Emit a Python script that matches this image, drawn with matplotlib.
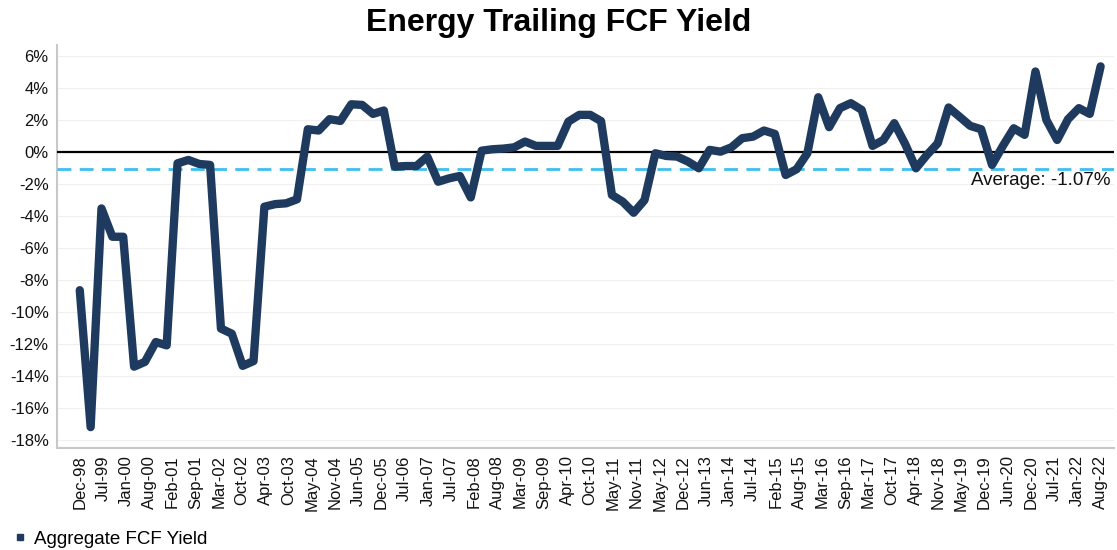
import numpy as np
import matplotlib
matplotlib.use("Agg")
import matplotlib.pyplot as plt
from matplotlib.lines import Line2D

plt.rcParams["font.family"] = ["Liberation Sans", "DejaVu Sans"]

# trailing FCF yield (%), one value per reporting period, Dec-98 .. Aug-22
fcf_yield = [
    -8.62, -17.18, -3.51, -5.28, -5.28, -13.40, -13.10, -11.86, -12.07, -0.69,
    -0.48, -0.73, -0.79, -11.02, -11.34, -13.35, -13.05, -3.40, -3.24, -3.19,
    -2.94, 1.44, 1.36, 2.07, 1.96, 3.00, 2.96, 2.40, 2.61, -0.90,
    -0.86, -0.86, -0.27, -1.84, -1.63, -1.48, -2.82, 0.10, 0.19, 0.23,
    0.31, 0.67, 0.40, 0.40, 0.40, 1.92, 2.34, 2.34, 1.95, -2.67,
    -3.09, -3.78, -2.99, -0.06, -0.23, -0.27, -0.58, -1.00, 0.15, 0.04,
    0.31, 0.88, 0.98, 1.36, 1.15, -1.42, -1.06, -0.06, 3.44, 1.57,
    2.76, 3.07, 2.65, 0.40, 0.77, 1.82, 0.52, -1.00, -0.17, 0.56,
    2.80, 2.23, 1.65, 1.44, -0.79, 0.40, 1.50, 1.09, 5.05, 2.03,
    0.77, 2.07, 2.76, 2.40, 5.37,
]
average_yield = -1.07

tick_labels = [
    "Dec-98", "Jul-99", "Jan-00", "Aug-00", "Feb-01", "Sep-01", "Mar-02",
    "Oct-02", "Apr-03", "Oct-03", "May-04", "Nov-04", "Jun-05", "Dec-05",
    "Jul-06", "Jan-07", "Jul-07", "Feb-08", "Aug-08", "Mar-09", "Sep-09",
    "Apr-10", "Oct-10", "May-11", "Nov-11", "May-12", "Dec-12", "Jun-13",
    "Jan-14", "Jul-14", "Feb-15", "Aug-15", "Mar-16", "Sep-16", "Mar-17",
    "Oct-17", "Apr-18", "Nov-18", "May-19", "Dec-19", "Jun-20", "Dec-20",
    "Jul-21", "Jan-22", "Aug-22",
]
y_ticks = list(range(-18, 7, 2))

NAVY = "#1f3a5f"
AVG_BLUE = "#3dbfef"

fig = plt.figure(figsize=(11.17, 5.5), dpi=100)
ax = fig.add_axes([0.051, 0.185, 0.946, 0.733])

x = np.arange(len(fcf_yield))
ax.plot(x, fcf_yield, color=NAVY, lw=6.0, solid_joinstyle="round",
        solid_capstyle="round", zorder=4)

ax.axhline(0, color="black", lw=1.6, zorder=3)
ax.axhline(average_yield, color=AVG_BLUE, lw=2.0, ls=(0, (5, 3)), zorder=3)
ax.annotate(f"Average: {average_yield:.2f}%",
            xy=(1, average_yield), xycoords=ax.get_yaxis_transform(),
            xytext=(-2, -2), textcoords="offset points",
            ha="right", va="top", fontsize=13.5, color="#111111")

ax.set_xlim(-2.1, len(fcf_yield) - 1 + 1.2)
ax.set_ylim(-18.5, 6.7)

ax.set_yticks(y_ticks)
ax.set_yticklabels([f"{v}%" for v in y_ticks])
ax.set_xticks(np.linspace(0, len(fcf_yield) - 1, len(tick_labels)))
ax.set_xticklabels(tick_labels, rotation=90)
ax.tick_params(axis="both", length=0, labelsize=12, colors="#111111")
ax.tick_params(axis="y", pad=6)
ax.tick_params(axis="x", pad=5)

ax.grid(axis="y", color="#f0f0f0", lw=0.8)
ax.set_axisbelow(True)
for side in ("top", "right"):
    ax.spines[side].set_visible(False)
for side in ("left", "bottom"):
    ax.spines[side].set_color("#c8c8c8")
    ax.spines[side].set_linewidth(1.5)

fig.suptitle("Energy Trailing FCF Yield", fontsize=23, fontweight="bold",
             y=0.985, x=0.5)

handle = Line2D([], [], marker="s", linestyle="none", color=NAVY, markersize=5)
fig.legend([handle], ["Aggregate FCF Yield"], loc="lower left",
           bbox_to_anchor=(-0.004, -0.027), frameon=False, fontsize=13.5,
           handletextpad=0.35, handlelength=0.8)

fig.savefig("out.png", dpi=100)
